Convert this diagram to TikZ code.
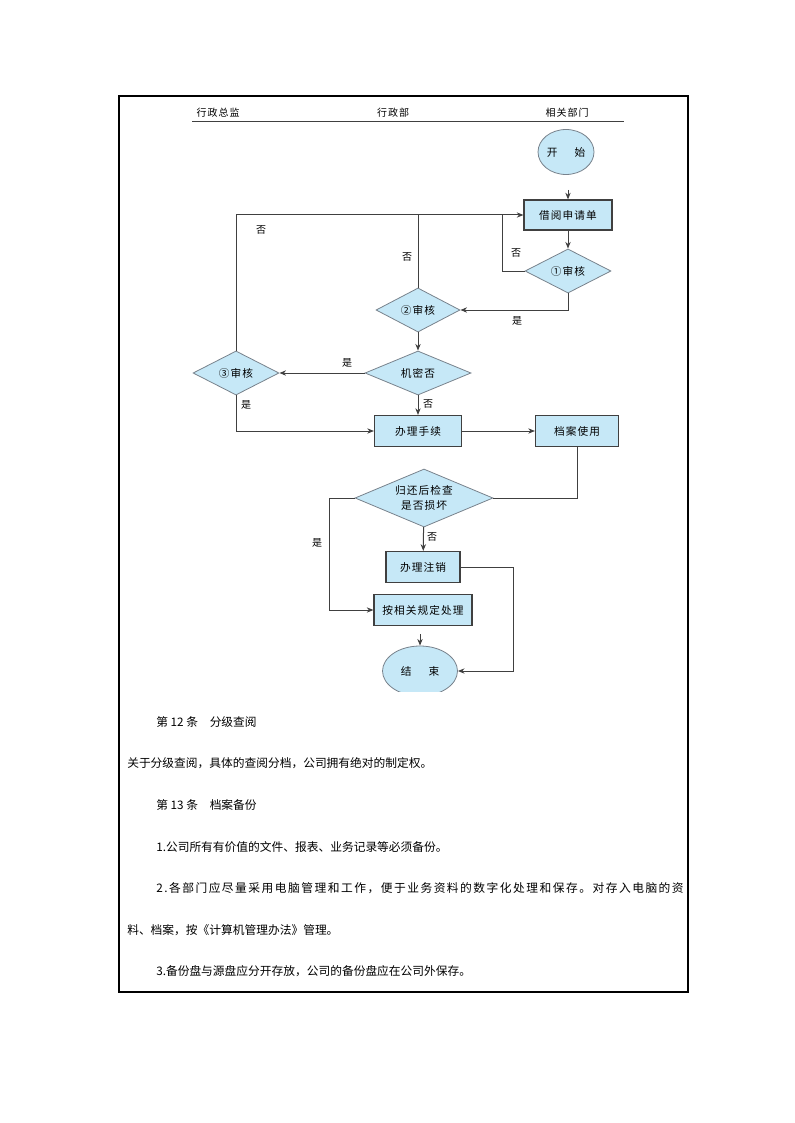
\documentclass[tikz,border=0pt]{standalone}
\usepackage{fontspec}
\usepackage{tikz}
\usetikzlibrary{shapes.geometric,arrows.meta}
\setmainfont{Noto Sans CJK SC}
\newfontfamily\chartfont{Noto Sans CJK SC}[LetterSpace=10]
\newfontfamily\widefont{Noto Sans CJK SC}[LetterSpace=12.8]
\definecolor{boxblue}{RGB}{198,232,247}
\definecolor{edgegray}{RGB}{64,64,64}
\definecolor{diagray}{RGB}{120,130,140}

\tikzset{
  stepbox/.style={draw=edgegray, line width=0.9pt, fill=boxblue, inner sep=0pt,
    font=\chartfont\fontsize{8}{10}\selectfont},
  decide/.style={diamond, draw=diagray, line width=0.6pt, fill=boxblue, inner sep=0pt,
    font=\chartfont\fontsize{8}{10}\selectfont},
  term/.style={ellipse, draw=diagray, line width=0.6pt, fill=boxblue, inner sep=0pt,
    font=\chartfont\fontsize{8}{10}\selectfont},
  flow/.style={draw=edgegray, line width=0.75pt},
  arr/.style={flow, -{Stealth[length=5pt,width=4pt]}},
  tag/.style={font=\chartfont\fontsize{7.5}{9}\selectfont, inner sep=0pt},
  para/.style={anchor=west, inner sep=0pt, font=\fontsize{8.8}{10}\selectfont}
}

\begin{document}
\begin{tikzpicture}[x=0.75pt, y=-0.75pt]
\useasboundingbox (0,0) rectangle (794,1123);
% frame
\draw[line width=0.8pt] (119,96) rectangle (688,992);

% lanes
\node[tag] (lane1) at (218,113) {行政总监};
\node[tag] (lane2) at (393,113) {行政部};
\node[tag] (lane3) at (567,113) {相关部门};
\draw[flow] (192,122) -- (624,122);

% nodes
\node[term, minimum width=42pt, minimum height=33.75pt] (start) at (566,152) {开\hspace{1.6em}始};
\node[stepbox, minimum width=66pt, minimum height=22.5pt] (apply) at (568,215) {借阅申请单};
\node[decide, minimum width=64.5pt, minimum height=31.5pt] (chk1) at (568,271) {①审核};
\node[decide, minimum width=63pt, minimum height=31.5pt] (chk2) at (418,310) {②审核};
\node[decide, minimum width=79.5pt, minimum height=30pt] (secret) at (418,373) {机密否};
\node[decide, minimum width=64.5pt, minimum height=30pt] (chk3) at (236,373) {③审核};
\node[stepbox, minimum width=65.25pt, minimum height=23.25pt] (handle) at (418,431) {办理手续};
\node[stepbox, minimum width=62.25pt, minimum height=23.25pt] (use) at (577,431) {档案使用};
\node[decide, minimum width=103.5pt, minimum height=43.5pt,
  label={[align=center, inner sep=0pt, font=\chartfont\fontsize{8}{11}\selectfont]center:归还后检查\\是否损坏}] (check) at (424,498) {};
\node[stepbox, minimum width=55.5pt, minimum height=23.25pt] (cancel) at (423,567) {办理注销};
\node[stepbox, minimum width=73.5pt, minimum height=23.25pt] (rule) at (423,610) {按相关规定处理};
\begin{scope}
\clip (300,600) rectangle (560,691);
\node[term, minimum width=56.25pt, minimum height=37.5pt] (end) at (420,671) {结\hspace{1.6em}束};
\end{scope}

% connectors
\coordinate (in1) at (568,190);
\coordinate (in2) at (420,634);
\coordinate (j1) at (502,215);
\coordinate (j2) at (329,498);
\coordinate (j3) at (513,567);
\draw[arr] (in1) -- (apply.north);
\draw[arr] (apply) -- (chk1);
\draw[arr] (chk3.north) |- (apply.west);
\draw[flow] (chk2.north) -- (chk2.north |- apply.west);
\draw[flow] (chk1.west) -| (j1);
\draw[arr] (chk1.south) |- (chk2.east);
\draw[arr] (chk2) -- (secret);
\draw[arr] (secret) -- (chk3);
\draw[arr] (chk3.south) |- (handle.west);
\draw[arr] (secret) -- (handle);
\draw[arr] (handle) -- (use);
\draw[flow] (use.south) |- (check.east);
\draw[arr] (check.west) -- (j2) |- (rule.west);
\draw[arr] (check) -- (cancel);
\draw[arr] (cancel.east) -- (j3) |- (end.east);
\draw[arr] (in2) -- (end.north);

% branch labels
\node[tag] (n1) at (261,230) {否};
\node[tag] (n2) at (407,257) {否};
\node[tag] (n3) at (516,253) {否};
\node[tag] (y1) at (517,321) {是};
\node[tag] (y2) at (347,363) {是};
\node[tag] (y3) at (246,405) {是};
\node[tag] (n4) at (428,404) {否};
\node[tag] (y4) at (317,543) {是};
\node[tag] (n5) at (432,537) {否};

% text below
\node[para] (t1) at (156,722) {第 12 条\hspace{1em}分级查阅};
\node[para] (t2) at (127,763) {关于分级查阅，具体的查阅分档，公司拥有绝对的制定权。};
\node[para] (t3) at (156,805) {第 13 条\hspace{1em}档案备份};
\node[para] (t4) at (156,847) {1.公司所有有价值的文件、报表、业务记录等必须备份。};
\node[para, font=\widefont\fontsize{8.8}{10}\selectfont] (t5) at (156,888) {2.各部门应尽量采用电脑管理和工作，便于业务资料的数字化处理和保存。对存入电脑的资};
\node[para] (t6) at (127,930) {料、档案，按《计算机管理办法》管理。};
\node[para] (t7) at (156,971) {3.备份盘与源盘应分开存放，公司的备份盘应在公司外保存。};
\end{tikzpicture}
\end{document}
